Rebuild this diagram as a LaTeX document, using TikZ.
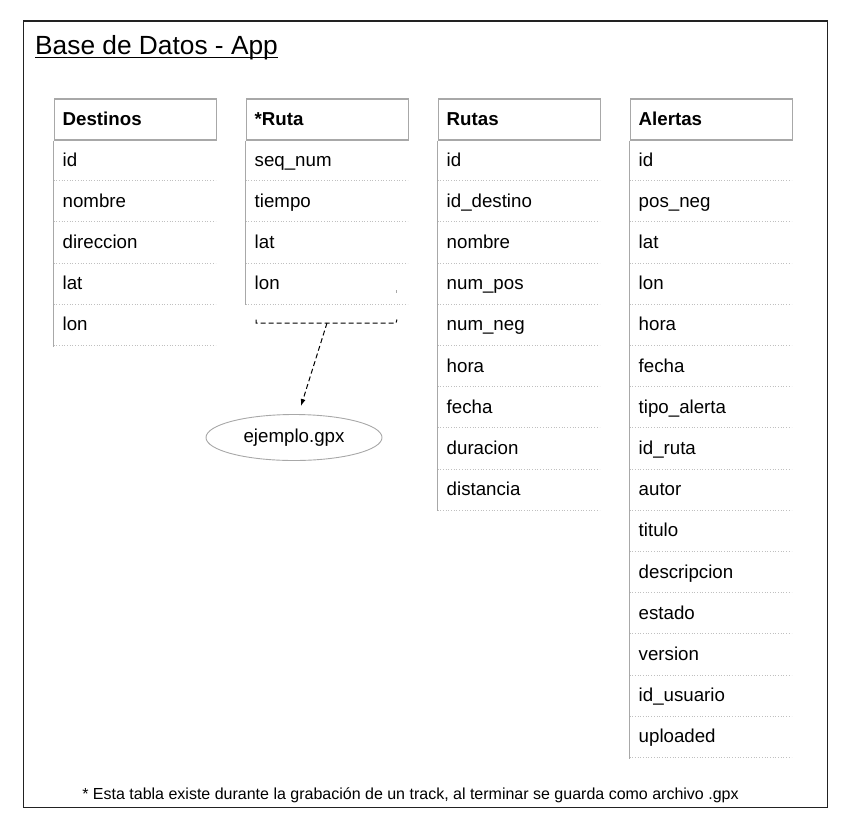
\documentclass[tikz,border=0pt]{standalone}
\usepackage{fontspec}
\setmainfont{Liberation Sans}
\usetikzlibrary{shapes.geometric,arrows.meta}
\definecolor{hdrgray}{HTML}{A8A8A8}
\definecolor{sepgray}{HTML}{C0C0C0}
\definecolor{framegray}{HTML}{222222}
\tikzset{
  hdr/.style={draw=hdrgray, line width=1.6pt, minimum width=162pt, minimum height=41pt, inner sep=0pt, anchor=north west},
  hdrtext/.style={font=\fontsize{18.7}{20}\selectfont\bfseries, anchor=base west, inner sep=0pt},
  rowtext/.style={font=\fontsize{18.7}{20}\selectfont, anchor=base west, inner sep=0pt},
  rowsep/.style={draw=sepgray, dotted, line width=0.7pt},
  vline/.style={draw=hdrgray, line width=1pt},
  frame/.style={draw=framegray, line width=1.3pt},
  fileell/.style={ellipse, draw=hdrgray, line width=0.9pt, minimum width=176pt, minimum height=46pt, inner sep=0pt, font=\fontsize{18.7}{20}\selectfont},
  brack/.style={draw=black, dash pattern=on 5pt off 3pt, line width=1pt},
  ptr/.style={draw=black, dash pattern=on 5pt off 3pt, line width=1pt, -{Latex[length=7pt,width=5pt]}}
}
% #1 name, #2 left x, #3 title, #4 rows, #5 number of rows
\newcommand\dbtable[5]{%
  \node[hdr] (#1) at (#2,98) {};
  \node[hdrtext] (#1-t) at (#2+9,125) {#3};
  \foreach \r [count=\i from 0] in {#4} {
    \node[rowtext] (#1-\i) at (#2+9,166+41.2*\i) {\r};
    \draw[rowsep] (#2,180.5+41.2*\i) -- (#2+162,180.5+41.2*\i);
  }
  \draw[vline] (#1.south west) -- ++(0,41.2*#5);
}
\begin{document}
\begin{tikzpicture}[x=1pt,y=-1pt]
\useasboundingbox (0,0) rectangle (851,828);
\draw[frame] (23.5,21) rectangle (827.5,807.5);
\node[anchor=base west, inner sep=0pt, font=\fontsize{26.3}{28}\selectfont] (title) at (35,54.3) {Base de Datos - App};
\draw[line width=1.3pt] (35,57.5) -- (title.east |- 0,57.5);

\dbtable{dest}{53.5}{Destinos}{id,nombre,direccion,lat,lon}{5}
\dbtable{ruta}{245.5}{*Ruta}{seq\_num,tiempo,lat,lon}{4}
\dbtable{rutas}{437.5}{Rutas}{id,id\_destino,nombre,num\_pos,num\_neg,hora,fecha,duracion,distancia}{9}
\dbtable{alert}{629.5}{Alertas}{id,pos\_neg,lat,lon,hora,fecha,tipo\_alerta,id\_ruta,autor,titulo,descripcion,estado,version,id\_usuario,uploaded}{15}

% small tick mark in Ruta table
\draw[draw=hdrgray, line width=0.8pt] (396.5,290) -- (396.5,293);

% dashed bracket under Ruta
\coordinate (bl) at (256,319.5);
\coordinate (br) at (397,319.5);
\coordinate (bm) at (327,323);
\draw[brack] (bl) -- (256,323) -- (396,323) -- (br);
\node[fileell] (gpx) at (294,437.5) {ejemplo.gpx};
\draw[ptr] (bm) -- (301,406);

\node[anchor=base, inner sep=0pt, font=\fontsize{16}{18}\selectfont] (note) at (410.5,799) {* Esta tabla existe durante la grabación de un track, al terminar se guarda como archivo .gpx};
\end{tikzpicture}
\end{document}
